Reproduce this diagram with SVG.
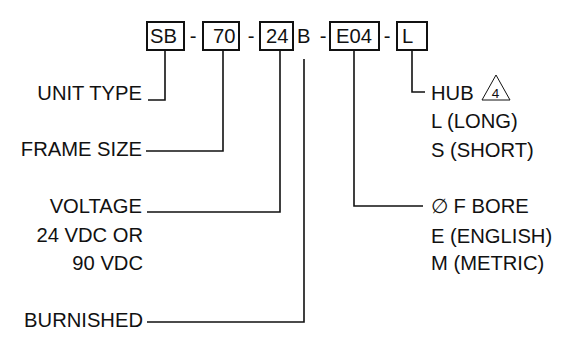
<svg xmlns="http://www.w3.org/2000/svg" width="573" height="339" viewBox="0 0 573 339">
<style>
text{font-family:"Liberation Sans",Arial,sans-serif;font-size:20.2px;fill:#111}
.box{fill:#fff;stroke:#111;stroke-width:2}
.ln{fill:none;stroke:#111;stroke-width:1.6}
.r{text-anchor:end}
.tri{fill:none;stroke:#111;stroke-width:1}
</style>
<rect width="573" height="339" fill="#fff"/>
<g id="code">
<g id="box-sb"><rect class="box" x="147" y="22" width="37" height="28"/><text x="150" y="43">SB</text></g>
<text x="193" y="43" text-anchor="middle">-</text>
<g id="box-70"><rect class="box" x="203" y="22" width="36" height="28"/><text x="213" y="43">70</text></g>
<text x="251" y="43" text-anchor="middle">-</text>
<g id="box-24"><rect class="box" x="260" y="22" width="33" height="28"/><text x="266" y="43">24</text></g>
<g id="b"><text x="297" y="43">B</text></g>
<text x="323" y="43" text-anchor="middle">-</text>
<g id="box-e04"><rect class="box" x="330" y="22" width="49" height="28"/><text x="336" y="43">E04</text></g>
<text x="387" y="43" text-anchor="middle">-</text>
<g id="box-l"><rect class="box" x="397" y="22" width="30" height="28"/><text x="402" y="43">L</text></g>
</g>
<g id="connectors">
<polyline class="ln" points="165,50 165,100 148,100"/>
<polyline class="ln" points="223,50 223,151 146,151"/>
<polyline class="ln" points="280,50 280,212 147,212"/>
<polyline class="ln" points="304,59 304,322 147,322"/>
<polyline class="ln" points="354,50 354,206 423,206"/>
<polyline class="ln" points="412,50 412,92 425,92"/>
</g>
<g id="unit-type"><text class="r" x="142" y="100">UNIT TYPE</text></g>
<g id="frame-size"><text class="r" x="142" y="156">FRAME SIZE</text></g>
<g id="voltage"><text class="r" x="142" y="213">VOLTAGE</text><text class="r" x="143" y="242">24 VDC OR</text><text class="r" x="143" y="270">90 VDC</text></g>
<g id="burnished"><text class="r" x="143" y="327">BURNISHED</text></g>
<g id="hub"><text x="431" y="100">HUB</text>
<polygon class="tri" points="482,100 510,100 496,75"/>
<text x="495.5" y="98" text-anchor="middle" style="font-size:13.5px">4</text>
<text x="431" y="128">L (LONG)</text><text x="431" y="157">S (SHORT)</text></g>
<g id="bore"><text x="431" y="213">∅ F BORE</text><text x="431" y="243">E (ENGLISH)</text><text x="431" y="270">M (METRIC)</text></g>
</svg>
